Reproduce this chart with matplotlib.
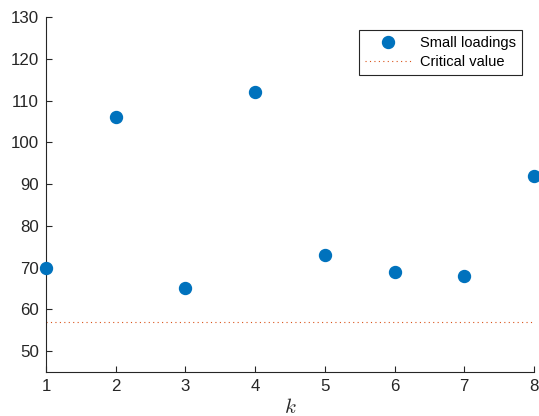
import matplotlib
matplotlib.use("Agg")
import matplotlib.pyplot as plt

k = [1, 2, 3, 4, 5, 6, 7, 8]
small_loadings = [70, 106, 65, 112, 73, 69, 68, 92]
critical_value = 57
y_ticks = [50, 60, 70, 80, 90, 100, 110, 120, 130]

plt.rcParams['font.family'] = ['Liberation Sans', 'DejaVu Sans']
plt.rcParams['mathtext.fontset'] = 'cm'

fig = plt.figure(figsize=(5.39, 4.16), dpi=100)
ax = fig.add_axes([0.0853, 0.1058, 0.9054, 0.8532])

ax_col = '#262626'
ax.plot(k, small_loadings, 'o', color='#0072BD', markersize=8.6, label='Small loadings', clip_on=False, zorder=3)
ax.plot([k[0], k[-1]], [critical_value, critical_value], linestyle=(0, (1, 3)), color='#D95319', linewidth=0.8, label='Critical value')

ax.set_xlim(1, 8)
ax.set_ylim(45, 130)
ax.set_xticks(k)
ax.set_yticks(y_ticks)
for s in ['top', 'right']:
    ax.spines[s].set_visible(False)
for s in ['left', 'bottom']:
    ax.spines[s].set_color(ax_col)
    ax.spines[s].set_linewidth(0.8)
ax.tick_params(direction='in', length=4, width=0.8, colors=ax_col, labelsize=12.2, pad=5)
ax.set_xlabel('$k$', fontsize=15, color=ax_col, labelpad=3)

leg = ax.legend(loc='upper right', bbox_to_anchor=(0.9754, 0.9634), borderaxespad=0, fontsize=10.5, frameon=True,
                fancybox=False, edgecolor=ax_col, framealpha=1, borderpad=0.4, handlelength=3.2,
                labelspacing=0.37, handletextpad=0.6)
leg.get_frame().set_linewidth(0.8)

fig.savefig('out.png', dpi=100)
